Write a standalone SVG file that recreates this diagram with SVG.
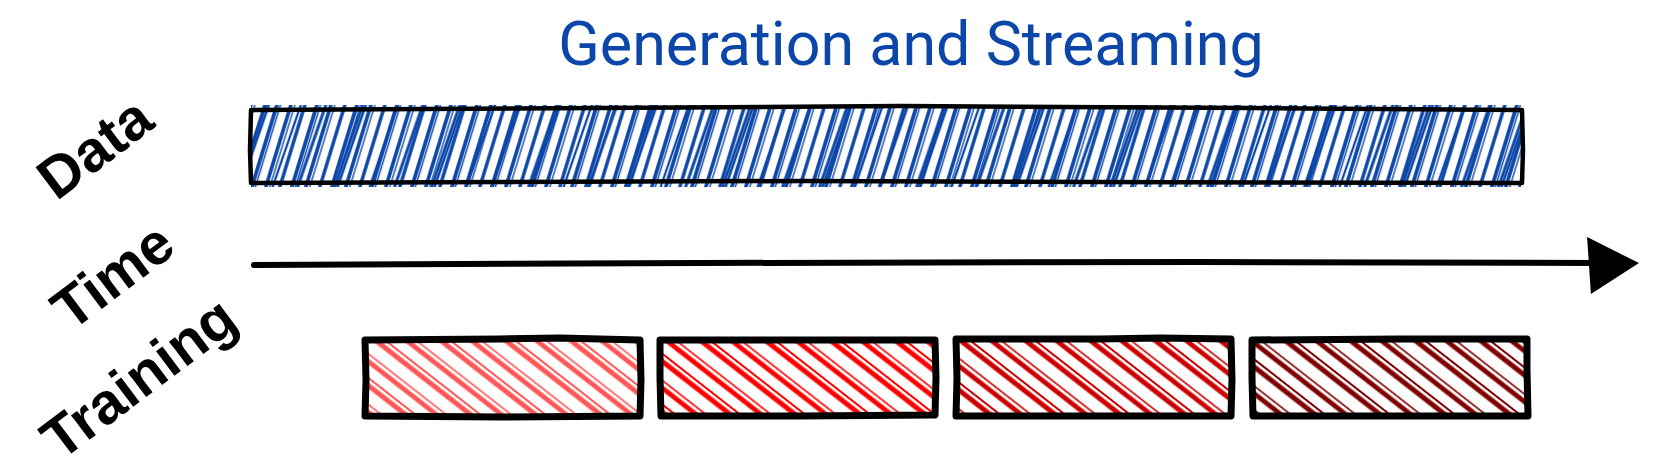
<svg xmlns="http://www.w3.org/2000/svg" width="1653" height="472" viewBox="0 0 1653 472">
  <style>
    .label { font-family: "Liberation Sans", Arial, sans-serif; font-weight: bold; font-size: 58px; fill: #000; text-anchor: middle; }
    .title { font-family: Roboto, "Liberation Sans", sans-serif; font-size: 61px; fill: #0b46a8; text-anchor: middle; }
    .border { fill: none; stroke: #000; stroke-linejoin: round; stroke-linecap: round; }
    .thin { stroke-width: 4.5; }
    .thick { stroke-width: 7; }
  </style>
  <defs>
    <pattern id="hBlueA" patternUnits="userSpaceOnUse" x="0" y="103" width="40" height="100" patternTransform="skewX(-17)">
      <g stroke="#0b46a8" fill="none">
        <line x1="3" y1="0" x2="3" y2="100" stroke-width="3.8"/>
        <line x1="7" y1="0" x2="7" y2="100" stroke-width="1.4"/>
        <line x1="17" y1="0" x2="17" y2="100" stroke-width="3.6"/>
        <line x1="29" y1="0" x2="29" y2="100" stroke-width="3.8"/>
        <line x1="32.5" y1="0" x2="32.5" y2="100" stroke-width="1.6"/>
      </g>
    </pattern>
    <pattern id="hBlueB" patternUnits="userSpaceOnUse" x="0" y="103" width="97" height="100" patternTransform="skewX(-19)">
      <g stroke="#0b46a8" fill="none">
        <line x1="11" y1="0" x2="11" y2="100" stroke-width="3.2"/>
        <line x1="14" y1="0" x2="14" y2="100" stroke-width="2.6"/>
        <line x1="46" y1="0" x2="46" y2="100" stroke-width="2.4"/>
        <line x1="71" y1="0" x2="71" y2="100" stroke-width="3.2"/>
      </g>
    </pattern>
    <pattern id="hR1" patternUnits="userSpaceOnUse" width="40" height="400" patternTransform="rotate(-52)">
      <g stroke="#ff5757" fill="none">
        <line x1="3" y1="0" x2="3" y2="400" stroke-width="5"/>
        <line x1="9" y1="0" x2="9" y2="400" stroke-width="2"/>
        <line x1="22" y1="0" x2="22" y2="400" stroke-width="4.8"/>
        <line x1="28" y1="0" x2="28" y2="400" stroke-width="1.6"/>
      </g>
    </pattern>
    <pattern id="hR2" patternUnits="userSpaceOnUse" width="40" height="400" patternTransform="rotate(-52)">
      <g stroke="#ff0000" fill="none">
        <line x1="3" y1="0" x2="3" y2="400" stroke-width="5"/>
        <line x1="9" y1="0" x2="9" y2="400" stroke-width="2"/>
        <line x1="22" y1="0" x2="22" y2="400" stroke-width="4.8"/>
        <line x1="28" y1="0" x2="28" y2="400" stroke-width="1.6"/>
      </g>
    </pattern>
    <pattern id="hR3" patternUnits="userSpaceOnUse" width="40" height="400" patternTransform="rotate(-52)">
      <g stroke="#cc0000" fill="none">
        <line x1="3" y1="0" x2="3" y2="400" stroke-width="5"/>
        <line x1="9" y1="0" x2="9" y2="400" stroke-width="2"/>
        <line x1="22" y1="0" x2="22" y2="400" stroke-width="4.8"/>
        <line x1="28" y1="0" x2="28" y2="400" stroke-width="1.6"/>
      </g>
    </pattern>
    <pattern id="hR4" patternUnits="userSpaceOnUse" width="40" height="400" patternTransform="rotate(-52)">
      <g stroke="#800000" fill="none">
        <line x1="3" y1="0" x2="3" y2="400" stroke-width="5"/>
        <line x1="9" y1="0" x2="9" y2="400" stroke-width="2"/>
        <line x1="22" y1="0" x2="22" y2="400" stroke-width="4.8"/>
        <line x1="28" y1="0" x2="28" y2="400" stroke-width="1.6"/>
      </g>
    </pattern>
    <marker id="arrowHead" markerUnits="userSpaceOnUse" markerWidth="60" markerHeight="60" refX="13" refY="26" orient="auto" viewBox="0 0 60 60">
      <path d="M0,0 L52,26 L4,57 Z" fill="#000"/>
    </marker>
  </defs>

  <rect width="1653" height="472" fill="#fff"/>

  <g id="title">
    <text class="title" x="911" y="65">Generation and Streaming</text>
  </g>

  <g id="label-data">
    <text class="label" transform="translate(94,147) rotate(-37)" x="0" y="21">Data</text>
  </g>
  <g id="label-time">
    <text class="label" transform="translate(112,275) rotate(-37)" x="0" y="21">Time</text>
  </g>
  <g id="label-training">
    <text class="label" transform="translate(138,377) rotate(-37)" x="0" y="21">Training</text>
  </g>

  <g id="data-bar">
    <rect x="251" y="105" width="1270" height="82" fill="url(#hBlueA)"/>
    <rect x="251" y="105" width="1270" height="82" fill="url(#hBlueB)"/>
    <path class="border thin" d="M251,110 L600,108 L900,106 L1250,108 L1522,110 L1523,150 L1522,183 L1100,182 L800,181 L500,182 L251,183 L250,150 Z"/>
  </g>

  <g id="connectors">
    <path d="M254,265 L700,263 L1200,262 L1600,263" fill="none" stroke="#000" stroke-width="6" stroke-linecap="round" marker-end="url(#arrowHead)"/>
  </g>

  <g id="training-1">
    <rect x="365" y="340" width="275" height="76" fill="url(#hR1)"/>
    <path class="border thick" d="M365,340 L500,339 L560,338 L640,340 L641,380 L640,416 L500,417 L365,416 L366,380 Z"/>
  </g>
  <g id="training-2">
    <rect x="660" y="340" width="275" height="75" fill="url(#hR2)"/>
    <path class="border thick" d="M660,340 L800,340 L935,340 L936,378 L935,415 L800,416 L661,416 L660,378 Z"/>
  </g>
  <g id="training-3">
    <rect x="956" y="339" width="275" height="77" fill="url(#hR3)"/>
    <path class="border thick" d="M956,339 L1100,339 L1160,338 L1231,339 L1232,380 L1231,416 L1100,416 L956,416 L957,378 Z"/>
  </g>
  <g id="training-4">
    <rect x="1252" y="340" width="275" height="76" fill="url(#hR4)"/>
    <path class="border thick" d="M1252,340 L1400,339 L1527,339 L1527,370 L1528,416 L1400,416 L1253,416 L1252,378 Z"/>
  </g>
</svg>
